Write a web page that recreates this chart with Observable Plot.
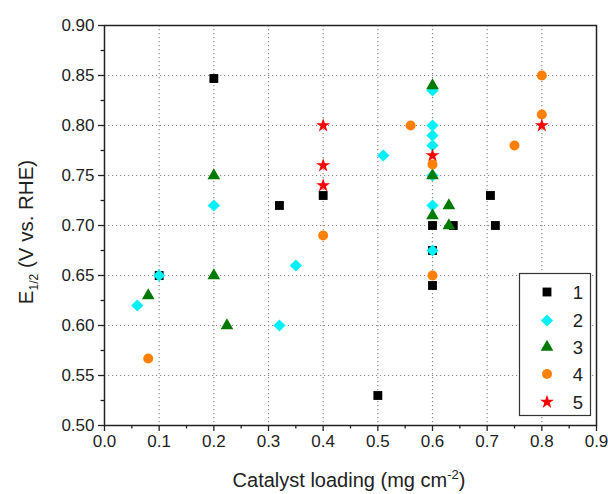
<!DOCTYPE html>
<html>
<head>
<meta charset="utf-8">
<script src="https://cdn.jsdelivr.net/npm/d3@7"></script>
<script src="https://cdn.jsdelivr.net/npm/@observablehq/plot@0.6"></script>
<style>
  html, body { margin: 0; padding: 0; background: #fff; }
  #chart { width: 608px; height: 494px; }
</style>
</head>
<body>
<div id="chart"></div>
<script>
// ---- Data ----
const seriesNames = ["1", "2", "3", "4", "5"];
const seriesColors = ["#000000", "#00F0F8", "#007A00", "#FF8000", "#FF0000"];
const seriesSymbols = ["square", "diamond2", "triangle", "circle", "star"];
const seriesR = [5.0, 5.5, 4.7, 5.0, 4.4];

const s1x = [0.10, 0.20, 0.32, 0.40, 0.50, 0.60, 0.60, 0.60, 0.638, 0.706, 0.715];
const s1y = [0.650, 0.847, 0.720, 0.730, 0.530, 0.640, 0.675, 0.700, 0.700, 0.730, 0.700];

const s2x = [0.06, 0.10, 0.20, 0.32, 0.35, 0.51, 0.60, 0.60, 0.60, 0.60, 0.60, 0.60, 0.60];
const s2y = [0.620, 0.650, 0.720, 0.600, 0.660, 0.770, 0.835, 0.800, 0.790, 0.780, 0.750, 0.720, 0.675];

const s3x = [0.08, 0.20, 0.20, 0.224, 0.60, 0.60, 0.60, 0.63, 0.63];
const s3y = [0.630, 0.650, 0.750, 0.600, 0.840, 0.750, 0.710, 0.720, 0.700];

const s4x = [0.08, 0.40, 0.56, 0.60, 0.60, 0.75, 0.80, 0.80];
const s4y = [0.567, 0.690, 0.800, 0.761, 0.650, 0.780, 0.850, 0.811];

const s5x = [0.40, 0.40, 0.40, 0.60, 0.80];
const s5y = [0.800, 0.760, 0.740, 0.770, 0.800];

const xTicks = [0, 0.1, 0.2, 0.3, 0.4, 0.5, 0.6, 0.7, 0.8, 0.9];
const xMinor = [0.05, 0.15, 0.25, 0.35, 0.45, 0.55, 0.65, 0.75, 0.85];
const yTicks = [0.50, 0.55, 0.60, 0.65, 0.70, 0.75, 0.80, 0.85, 0.90];
const yMinor = [0.525, 0.575, 0.625, 0.675, 0.725, 0.775, 0.825, 0.875];

const xs = [s1x, s2x, s3x, s4x, s5x];
const ys = [s1y, s2y, s3y, s4y, s5y];
const series = xs.map((xa, i) => xa.map((x, j) => ({x, y: ys[i][j], s: seriesNames[i]})));

const font = "'Liberation Sans', Arial, sans-serif";
const gridStyle = {stroke: "#8a8a8a", strokeOpacity: 1, strokeWidth: 1.2, strokeDasharray: "1.2,2.8"};

const chart = Plot.plot({
  width: 608,
  height: 494,
  marginLeft: 104,
  marginRight: 12,
  marginTop: 25,
  marginBottom: 69,
  style: {fontFamily: font, fontSize: "17px", background: "#fff", color: "#222"},
  x: {domain: [0, 0.9]},
  y: {domain: [0.5, 0.9]},
  marks: [
    Plot.gridX(xTicks.slice(1, -1), gridStyle),
    Plot.gridY(yTicks.slice(1, -1), gridStyle),
    Plot.axisX(xTicks, {tickSize: 6, tickPadding: 3, strokeWidth: 1.3, tickFormat: d => d.toFixed(1), label: null, fontSize: 17}),
    Plot.axisX(xMinor, {tickSize: 3.5, strokeWidth: 1.3, text: null, label: null}),
    Plot.axisY(yTicks, {tickSize: 6, tickPadding: 4, strokeWidth: 1.3, tickFormat: d => d.toFixed(2), label: null, fontSize: 17}),
    Plot.axisY(yMinor, {tickSize: 3.5, strokeWidth: 1.3, text: null, label: null}),
    ...series.map((data, i) => Plot.dot(data, {
      x: "x", y: "y", symbol: () => seriesSymbols[i], r: seriesR[i],
      fill: seriesColors[i], stroke: "none"
    })),
    Plot.frame({stroke: "#222", strokeWidth: 1.5})
  ]
});

document.getElementById("chart").appendChild(chart);

// ---- Axis titles with sub/superscripts ----
const svg = d3.select(chart);
const xt = svg.append("text")
  .attr("x", 349).attr("y", 487)
  .attr("text-anchor", "middle")
  .attr("font-family", font).attr("font-size", 20).attr("fill", "#222");
xt.append("tspan").text("Catalyst loading (mg cm");
xt.append("tspan").attr("font-size", 13).attr("dy", -8).text("-2");
xt.append("tspan").attr("dy", 8).text(")");

const yt = svg.append("text")
  .attr("transform", "translate(33,232) rotate(-90)")
  .attr("text-anchor", "middle")
  .attr("font-family", font).attr("font-size", 20.5).attr("fill", "#222");
yt.append("tspan").text("E");
yt.append("tspan").attr("font-size", 12).attr("dy", 5).text("1/2");
yt.append("tspan").attr("dy", -5).text(" (V vs. RHE)");

// ---- Legend ----
const lg = svg.append("g");
lg.append("rect").attr("x", 519.5).attr("y", 273.5).attr("width", 71).attr("height", 142)
  .attr("fill", "#fff").attr("stroke", "#333").attr("stroke-width", 1.2);
const symMap = {square: d3.symbolSquare, diamond2: d3.symbolDiamond2, triangle: d3.symbolTriangle, circle: d3.symbolCircle, star: d3.symbolStar};
const legendRows = [292, 320.5, 347, 374, 402];
seriesNames.forEach((name, i) => {
  const cy = legendRows[i];
  lg.append("path")
    .attr("transform", `translate(547,${cy})`)
    .attr("d", d3.symbol(symMap[seriesSymbols[i]], Math.PI * seriesR[i] * seriesR[i])())
    .attr("fill", seriesColors[i]);
  lg.append("text").attr("x", 578).attr("y", cy + 6.5)
    .attr("text-anchor", "middle")
    .attr("font-family", font).attr("font-size", 18.5).attr("fill", "#222")
    .text(name);
});
</script>
</body>
</html>
